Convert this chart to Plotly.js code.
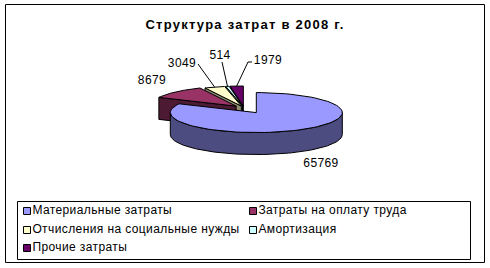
<!DOCTYPE html>
<html>
<head>
<meta charset="utf-8">
<script src="https://cdn.plot.ly/plotly-3.0.1.min.js"></script>
<style>
  html, body { margin: 0; padding: 0; background: #ffffff; }
  #chart { width: 490px; height: 268px; }
  #chart .textpoint text { letter-spacing: 0.4px; }
  #chart .gtitle { letter-spacing: 1.25px; }
</style>
</head>
<body>
<div id="chart"></div>
<script>
// Структура затрат в 2008 г.
const categories = [
  'Материальные затраты',
  'Затраты на оплату труда',
  'Отчисления на социальные нужды',
  'Амортизация',
  'Прочие затраты'
];
const values = [65769, 8679, 3049, 514, 1979];

// styling
const topColors  = ['#9999FF', '#993366', '#FFFFCC', '#CCFFFF', '#660066'];
const sideColors = ['#4C4C80', '#4D1A33', '#8F8F70', '#668A8A', '#330033'];
const explode    = [0.27, 0.13, 0.10, 0.10, 0.10];

// 3D pie geometry in pixel units (axes map 1 unit = 1 px)
const CX = 244, CY = 108;   // pie centre
const RX = 86, RY = 20;     // top-face ellipse radii
const DEPTH = 22;           // wall thickness
const ARC_STEPS = 90;

// label anchors (text centres) and leader-line start points
const labelAt    = [[321, 164], [152, 81], [182, 64], [220, 56], [268, 61]];
const leaderFrom = [null, null, [[198, 64]], [[222, 62]], [[252, 62], [248, 62]]];

const FONT = 'Liberation Sans, Arial, sans-serif';
const deg = Math.PI / 180;
const total = values.reduce((s, v) => s + v, 0);

// slice angles, clockwise from 12 o'clock
let acc = 0;
const slices = values.map((v, i) => {
  const a0 = acc / total * 360;
  acc += v;
  const a1 = acc / total * 360;
  const mid = (a0 + a1) / 2;
  const vx = CX + explode[i] * RX * Math.sin(mid * deg);
  const vy = CY - explode[i] * RY * Math.cos(mid * deg);
  return { i, a0, a1, mid, vx, vy };
});

function pt(s, a, h) {
  return [s.vx + RX * Math.sin(a * deg), s.vy - RY * Math.cos(a * deg) + (h || 0)];
}
function arc(s, a0, a1, h) {
  const out = [];
  for (let k = 0; k <= ARC_STEPS; k++) out.push(pt(s, a0 + (a1 - a0) * k / ARC_STEPS, h));
  return out;
}
function face(poly, fill) {
  return {
    type: 'scatter', mode: 'lines', fill: 'toself',
    x: poly.map(p => p[0]), y: poly.map(p => p[1]),
    fillcolor: fill, line: { color: '#000000', width: 1 },
    hoverinfo: 'skip', showlegend: false
  };
}

const traces = [];
// back-to-front drawing
slices.slice().sort((p, q) => p.vy - q.vy).forEach(s => {
  const side = sideColors[s.i];
  // cut faces that turn toward the viewer
  [[s.a0, s.a0 - 90], [s.a1, s.a1 + 90]].forEach(([a, n]) => {
    if (Math.cos(n * deg) < -0.05) {
      const p = pt(s, a), pd = pt(s, a, DEPTH);
      traces.push(face([[s.vx, s.vy], p, pd, [s.vx, s.vy + DEPTH], [s.vx, s.vy]], side));
    }
  });
  // outer wall, front half only
  const w0 = Math.max(s.a0, 90), w1 = Math.min(s.a1, 270);
  if (w1 > w0) {
    const poly = arc(s, w0, w1, 0).concat(arc(s, w1, w0, DEPTH));
    poly.push(poly[0]);
    traces.push(face(poly, side));
  }
  // top face
  const topPoly = [[s.vx, s.vy]].concat(arc(s, s.a0, s.a1, 0), [[s.vx, s.vy]]);
  traces.push(face(topPoly, topColors[s.i]));
});

// leader lines to the outer edge of the small slices
slices.forEach(s => {
  const from = leaderFrom[s.i];
  if (!from) return;
  const path = from.concat([pt(s, s.mid)]);
  traces.push({
    type: 'scatter', mode: 'lines',
    x: path.map(p => p[0]), y: path.map(p => p[1]),
    line: { color: '#000000', width: 1 }, hoverinfo: 'skip', showlegend: false
  });
});

// value labels
traces.push({
  type: 'scatter', mode: 'text',
  x: labelAt.map(p => p[0]), y: labelAt.map(p => p[1]),
  text: values.map(v => String(v)),
  textposition: 'middle center',
  textfont: { family: FONT, size: 12, color: '#000000' },
  hoverinfo: 'skip', showlegend: false
});

// legend: two columns, three rows
const legCol = [27, 253], legRow = [211, 230, 248];
traces.push({
  type: 'scatter', mode: 'markers+text',
  x: categories.map((c, i) => legCol[i % 2]),
  y: categories.map((c, i) => legRow[Math.floor(i / 2)]),
  text: categories,
  textposition: 'middle right',
  textfont: { family: FONT, size: 12, color: '#000000' },
  marker: { symbol: 'square', size: 7, color: topColors, line: { color: '#000000', width: 1 } },
  hoverinfo: 'skip', showlegend: false
});

const layout = {
  width: 490, height: 268,
  margin: { l: 0, r: 0, t: 0, b: 0 },
  paper_bgcolor: '#ffffff', plot_bgcolor: '#ffffff',
  showlegend: false,
  title: {
    text: '<b>Структура затрат в 2008 г.</b>',
    font: { family: FONT, size: 13, color: '#000000' },
    x: 0.5, xanchor: 'center', y: 1 - 24 / 268, yanchor: 'middle'
  },
  xaxis: { range: [0, 490], visible: false, fixedrange: true },
  yaxis: { range: [268, 0], visible: false, fixedrange: true },
  shapes: [
    { type: 'rect', xref: 'x', yref: 'y', x0: 5.5, y0: 4.5, x1: 484.5, y1: 262.5,
      line: { color: '#000000', width: 1 }, layer: 'below' },
    { type: 'rect', xref: 'x', yref: 'y', x0: 17.5, y0: 201.5, x1: 470.5, y1: 259.5,
      line: { color: '#000000', width: 1 }, layer: 'below' }
  ]
};

Plotly.newPlot('chart', traces, layout, { staticPlot: true, displayModeBar: false });
</script>
</body>
</html>
